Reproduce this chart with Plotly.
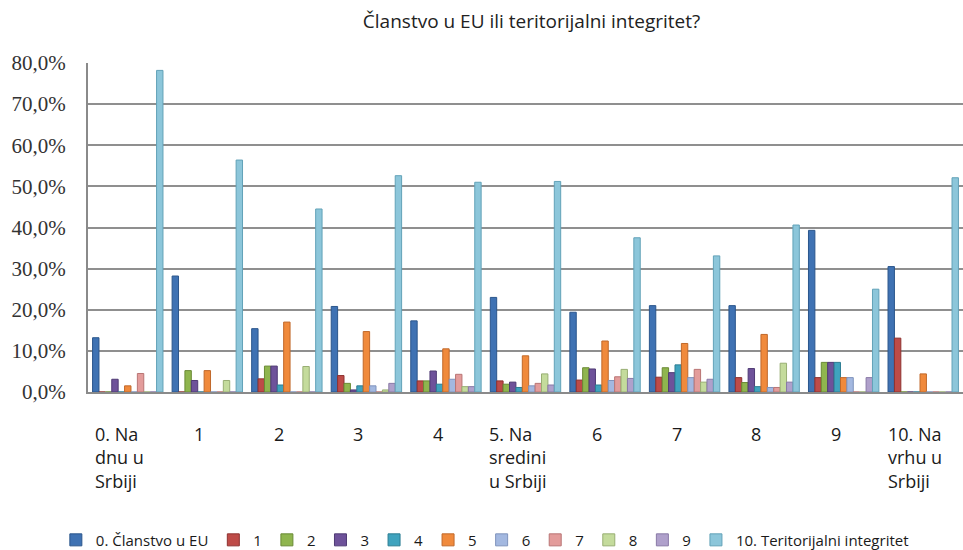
import plotly.graph_objects as go

# Category labels (x axis)
categories = [
    "0. Na<br>dnu u<br>Srbiji", "1", "2", "3", "4",
    "5. Na<br>sredini<br>u Srbiji", "6", "7", "8", "9",
    "10. Na<br>vrhu u<br>Srbiji",
]

# Series names
series_names = [
    "0. Članstvo u EU", "1", "2", "3", "4", "5", "6", "7", "8", "9",
    "10. Teritorijalni integritet",
]

# Percent values, one list per series (index = category)
s0 = [13.2, 28.2, 15.4, 20.8, 17.3, 23.0, 19.4, 21.0, 21.0, 39.3, 30.5]
s1 = [0.0, 0.0, 3.2, 4.0, 2.7, 2.7, 2.9, 3.6, 3.5, 3.5, 13.1]
s2 = [0.0, 5.2, 6.3, 2.1, 2.7, 1.9, 5.9, 5.9, 2.3, 7.2, 0.0]
s3 = [3.1, 2.8, 6.3, 0.5, 5.1, 2.4, 5.6, 4.7, 5.7, 7.2, 0.0]
s4 = [0.0, 0.0, 1.7, 1.5, 1.9, 1.1, 1.7, 6.6, 1.3, 7.2, 0.0]
s5 = [1.5, 5.2, 17.0, 14.7, 10.5, 8.8, 12.4, 11.8, 14.0, 3.5, 4.4]
s6 = [0.0, 0.0, 0.0, 1.5, 3.1, 1.5, 2.8, 3.5, 1.1, 3.5, 0.0]
s7 = [4.5, 0.0, 0.0, 0.0, 4.3, 2.1, 3.7, 5.5, 1.1, 0.0, 0.0]
s8 = [0.0, 2.8, 6.2, 0.5, 1.3, 4.4, 5.5, 2.4, 7.0, 0.0, 0.0]
s9 = [0.0, 0.0, 0.0, 2.1, 1.3, 1.7, 3.3, 3.1, 2.4, 3.5, 0.0]
s10 = [78.2, 56.4, 44.5, 52.6, 51.0, 51.2, 37.5, 33.1, 40.6, 25.0, 52.1]

series_values = [s0, s1, s2, s3, s4, s5, s6, s7, s8, s9, s10]

y_ticks = [0, 10, 20, 30, 40, 50, 60, 70, 80]
y_tick_labels = ["0,0%", "10,0%", "20,0%", "30,0%", "40,0%",
                 "50,0%", "60,0%", "70,0%", "80,0%"]

colors = ["#3F72B3", "#BE4B48", "#8FB54E", "#6E529A", "#3FA3BE", "#F08A3C",
          "#A3B8E0", "#E39C9B", "#C4DB9C", "#AFA0CB", "#8CC6DA"]
edge_colors = ["#2B568C", "#8E3230", "#6A8A35", "#4F3A74", "#2C7D92", "#C0682A",
               "#7F93BC", "#B97574", "#98AE73", "#8979A6", "#62A2B8"]

sans = "Open Sans, Noto Sans, sans-serif"
x_idx = list(range(len(categories)))

fig = go.Figure()
for name, vals, col, edge in zip(series_names, series_values, colors, edge_colors):
    fig.add_trace(go.Bar(
        x=x_idx, y=vals, name=name,
        marker=dict(color=col, line=dict(color=edge, width=1)),
        hovertemplate="%{y:.1f}%<extra>" + name + "</extra>",
    ))

# Category labels under the plot, lines left-aligned
for i, lab in enumerate(categories):
    fig.add_annotation(
        x=i, y=-0.085, xref="x", yref="paper",
        text=lab, showarrow=False, xanchor="center", yanchor="top",
        align="left", xshift=-8,
        font=dict(family=sans, size=18, color="#1a1a1a"),
    )

fig.update_layout(
    width=963, height=550,
    margin=dict(l=88, r=0, t=63, b=158, autoexpand=False),
    paper_bgcolor="white", plot_bgcolor="white",
    barmode="group", bargap=0.115, bargroupgap=0.0,
    title=dict(
        text="Članstvo u EU ili teritorijalni integritet?",
        x=0.552, xanchor="center", xref="container",
        y=0.962, yanchor="middle", yref="container",
        font=dict(family=sans, size=19, color="#222222"),
    ),
    showlegend=True,
    legend=dict(
        orientation="h", x=0.058, xanchor="left", xref="container",
        y=0.048, yanchor="top", yref="container",
        font=dict(family=sans, size=15, color="#1a1a1a"),
        itemwidth=30, traceorder="normal", bgcolor="rgba(0,0,0,0)",
    ),
    xaxis=dict(
        range=[-0.5, 10.5], showticklabels=False, showgrid=False,
        zeroline=False, showline=True, linecolor="#8a8a8a", linewidth=2,
        fixedrange=True,
    ),
    yaxis=dict(
        range=[0, 80], tickvals=y_ticks, ticktext=y_tick_labels,
        showgrid=True, gridcolor="#8f8f8f", gridwidth=2,
        zeroline=False, showline=True, linecolor="#8a8a8a", linewidth=2,
        mirror=False, ticks="", ticklabelstandoff=16,
        tickfont=dict(family="Liberation Serif, Times New Roman, serif", size=21, color="#333333"),
        fixedrange=True,
    ),
)

fig.write_html("out.html")
